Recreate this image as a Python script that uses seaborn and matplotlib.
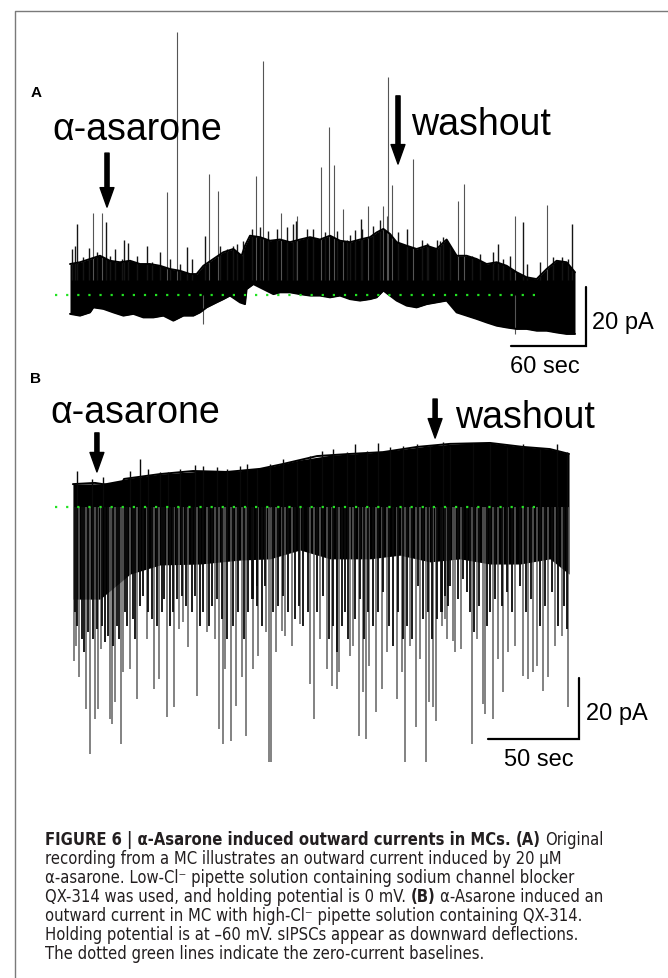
import numpy as np
import pandas as pd
import seaborn as sns
import matplotlib.pyplot as plt
from matplotlib.lines import Line2D

# ---- panel A : low-Cl- recording, outward current (time in s, current in pA re baseline)
a_top_t = [0, 8, 16, 24, 32, 40, 48, 56, 64, 72, 80, 88, 96, 101.3, 106.7, 114.7, 122.7,
           130.7, 137.3, 140, 144, 152, 160, 168, 176, 184, 192, 200, 208, 216, 224,
           232, 240, 245.3, 250.7, 256, 261.3, 269.3, 277.3, 285.3, 293.3, 301.3,
           309.3, 317.3, 325.3, 333.3, 341.3, 349.3, 357.3, 365.3, 373.3, 381.3,
           389.3, 397.3, 404]
a_top = [10.5, 11.1, 12.2, 13.3, 11.6, 11.1, 11.6, 10.5, 10.5, 9.9, 8.8, 8.2, 7.1, 7.1,
         9.9, 12.2, 14.5, 15.6, 13.3, 16.7, 20.1, 19.6, 18.4, 18.8, 17.9, 18.8, 19.6,
         18.8, 20.1, 18.4, 17.9, 18.8, 19.6, 21.2, 22.4, 20.7, 17.9, 16.7, 15.6, 16.7,
         15.6, 18.8, 13.3, 13.3, 12.2, 10.5, 11.1, 9.9, 7.7, 6.0, 5.4, 8.8, 11.6, 11.1,
         7.7]
a_bot_t = [0, 8, 16, 18.7, 26.7, 34.7, 42.7, 50.7, 58.7, 66.7, 74.7, 82.7, 90.7, 98.7,
           104, 109.3, 117.3, 122.7, 128, 136, 140, 141.3, 146.7, 154.7, 162.7, 168,
           176, 184, 192, 200, 208, 216, 224, 232, 240, 245.3, 250.7, 256, 261.3,
           269.3, 277.3, 285.3, 293.3, 301.3, 309.3, 317.3, 325.3, 333.3, 341.3,
           349.3, 357.3, 365.3, 373.3, 381.3, 389.3, 397.3, 404]
a_bot = [-6.4, -7.0, -5.9, -4.2, -4.7, -5.9, -7.0, -6.4, -7.6, -7.6, -7.0, -8.7, -7.0,
         -7.0, -5.9, -4.2, -2.5, -1.4, -0.2, -2.5, -3.1, 2.0, 3.7, 2.0, 0.3, 0.9, 0.9,
         0.3, -0.2, -0.2, -0.8, -0.2, -1.4, -1.9, -1.4, -0.8, 1.5, -0.2, -1.9, -3.6,
         -4.2, -3.1, -2.5, -1.9, -5.9, -7.0, -8.1, -9.3, -10.4, -11.0, -11.5, -11.5,
         -12.1, -12.1, -12.7, -13.2, -13.2]
a_up_t = [85.6, 154.4, 254.4, 207.2, 274.4, 200.8, 211.2, 148.8, 111.2, 118.4, 77.6,
          315.2, 310.4, 381.6, 356, 401.6, 18.4, 25.6, 5.6, 28.8, 257.6, 238.4, 362.4,
          342.4, 168.8, 181.6, 218.4, 108, 93.6, 43.2, 61.6, 46.4, 180.8, 224, 228,
          232.8, 250.4, 269.6, 285.6, 296,
          1.3, 4.0, 10.1, 15.5, 21.9, 32.0, 36.0, 41.3, 53.3, 65.3, 72.0, 80.0, 88.0,
          97.3, 120.0, 125.3, 130.7, 133.3, 138.7, 145.3, 152.0, 158.7, 165.3, 173.3,
          178.7, 189.3, 194.7, 204.0, 213.3, 221.3, 233.3, 242.7, 248, 253.3, 262.7,
          281.3, 286.7, 293.3, 298.7, 304, 321.3, 328, 338.7, 346.7, 352, 365.3, 376,
          386.7, 393.3, 398.7]
a_up_pa = [89.2, 79.3, 73.9, 56.9, 46.1, 43.4, 44.1, 40.3, 41.0, 35.3, 34.9,
           37.6, 31.9, 30.5, 26.8, 24.1, 27.8, 27.8, 24.1, 24.7, 37.3, 30.2, 24.7,
           17.3, 27.8, 26.8, 29.2, 20.0, 16.3, 18.6, 16.6, 17.6, 25.1, 20.3, 22.0,
           25.8, 30.2, 22.4, 17.6, 18.3,
           15.6, 16.7, 12.8, 16.1, 14.5, 13.3, 15.6, 12.2, 13.3, 11.1, 14.5, 12.2, 10.5,
           12.2, 16.7, 15.6, 16.7, 17.3, 18.4, 22.4, 22.9, 21.8, 22.4, 22.9,
           24.1, 22.4, 22.4, 21.2, 21.8, 18.8, 22.4, 23.5, 25.3, 26.9, 21.2,
           18.8, 17.3, 18.8, 19.6, 16.7, 13.3, 13.8, 14.5, 12.2, 13.3, 10.5, 11.1,
           12.8, 12.8, 12.2]
a_down_t = [106.4, 356]
a_down_pa = [-9.8, -13.2]
a_drug_t, a_wash_t = 29.6, 262.4

# ---- panel B : high-Cl- recording, sIPSCs as downward deflections
b_time = [0.5, 12.6, 26.4, 28.6, 48.4, 66.5, 85.2, 103.3, 115.9, 134.6, 152.7, 170.9,
          189.6, 207.7, 229.7, 247.8, 262.6, 273.1]
b_upper = [7.5, 7.9, 6.6, 9.2, 10.8, 11.8, 11.5, 12.5, 14.1, 16.7, 17.4, 18.0,
           19.7, 20.7, 21.0, 19.7, 19.0, 17.4]
b_dense_t = [0.5, 15.4, 31.9, 48.4, 70.3, 92.3, 108.8, 125.3, 141.8, 163.7, 180.2,
             196.7, 213.2, 229.7, 246.2, 262.6, 273.1]
b_dense = [-30.2, -30.2, -22.0, -19.0, -18.7, -17.4, -17.0, -14.1, -17.0, -17.0,
           -15.8, -18.0, -17.0, -18.7, -18.7, -17.0, -22.0]
# deepest sIPSCs
b_ipsc_t = [1.1, 2.2, 3.8, 7.7, 9.9, 12.6, 14.3, 15.9, 20.9, 22.0, 23.6, 26.9, 28.0,
            31.9, 35.7, 41.2, 45.1, 47.8, 52.2, 56.0, 58.8, 61.0, 63.7, 68.7, 74.2,
            78.6, 80.8, 83.0, 84.1, 87.4, 90.1, 93.4, 95.6, 99.5, 102.2, 106.6, 108.2,
            109.3, 112.1, 115.4, 117.0, 120.9, 125.3, 130.8, 133.0, 136.3, 140.1,
            142.9, 145.6, 146.7, 152.7, 154.4, 157.7, 159.9, 161.5, 163.2, 167.0,
            170.3, 173.1, 178.6, 181.3, 183.0, 185.7, 189.0, 191.2, 194.5, 196.2,
            198.4, 200.0, 203.3, 206.0, 204.9, 209.3, 210.4, 213.7, 219.8, 222.5,
            225.8, 226.9, 231.3, 234.1, 236.8, 239.6, 243.4, 247.8, 250.5, 253.3,
            255.5, 258.8, 261.5, 265.4, 269.2, 272.5]
b_ipsc_pa = [-50.5, -45.6, -55.7, -66.2, -81.0, -69.5, -66.2, -46.6, -69.5, -71.1,
             -63.9, -77.7, -54.1, -53.1, -63.0, -43.3, -59.7, -56.4, -68.9, -65.6,
             -40.0, -37.7, -45.9, -62.0, -41.0, -43.3, -72.8, -77.7, -53.1, -76.7,
             -65.2, -55.7, -75.1, -53.1, -48.9, -41.0, -83.6, -83.6, -47.5, -40.7,
             -42.3, -45.6, -38.4, -58.0, -69.5, -43.3, -53.1, -58.7, -59.7, -54.1,
             -48.9, -45.6, -75.1, -60.7, -76.1, -52.1, -67.2, -59.7, -47.5, -63.0,
             -54.1, -83.6, -45.6, -72.1, -49.8, -83.6, -63.9, -65.6, -70.2, -39.0,
             -43.3, -36.7, -43.9, -47.5, -46.6, -77.7, -43.3, -64.6, -67.9, -69.5,
             -49.8, -60.7, -47.5, -45.6, -55.4, -56.4, -54.1, -52.1, -60.3, -55.7,
             -45.6, -42.3, -65.6]
# the many smaller sIPSCs that make up the dark band below the baseline
b_small_t = [1.6, 2.9, 5.3, 6.6, 9.0, 11.7, 13.6, 16.3, 18.1, 20.0, 22.7, 24.5, 26.0,
             29.1, 30.0, 33.3, 34.6, 37.4, 39.2, 41.9, 43.8, 46.5, 49.3, 50.5, 53.8,
             55.3, 57.5, 60.3, 62.6, 65.8, 67.6, 70.3, 72.2, 75.4, 76.7, 79.5, 82.2,
             85.0, 88.6, 91.4, 94.5, 96.9, 98.7, 101.5,
             99.6, 101.5, 104.2, 106.0, 110.6, 113.4, 116.1, 118.9, 122.5, 124.9, 127.1,
             129.9, 134.4, 138.1, 141.4, 143.6, 145.8, 148.2, 150.0, 151.8, 155.5,
             158.2, 160.4, 162.8, 165.6, 168.3, 171.1, 174.4, 176.6, 179.3, 181.7,
             183.9, 186.6, 190.3, 193.0, 195.8, 197.6, 200.4, 202.6, 204.9, 206.8,
             203.1, 206.8, 207.7, 212.3, 215.0, 216.9, 218.7, 221.0, 223.8, 227.8,
             229.7, 232.4, 236.1, 238.8, 241.6, 246.2, 249.5, 252.0, 257.1, 259.9,
             263.6, 267.2, 270.3, 271.8]
b_small_pa = [-34.5, -38.9, -43.3, -47.6, -41.1, -43.3, -40.0, -38.9, -44.4, -42.2,
              -45.5, -38.9, -43.3, -34.5, -38.9, -36.7, -43.3, -32.3, -29.1, -34.5,
              -36.7, -38.9, -34.5, -30.2, -38.9, -34.5, -30.2, -29.1, -32.3, -34.5,
              -29.1, -38.9, -34.5, -38.9, -32.3, -30.2, -36.7, -43.3, -38.9, -34.5,
              -43.3, -34.5, -30.2, -25.8,
              -30.2, -32.3, -38.9, -25.8, -34.5, -32.3, -29.1, -34.5, -36.7, -32.3,
              -38.9, -34.5, -34.5, -29.1, -43.3, -38.9, -47.6, -38.9, -34.5, -43.3,
              -36.7, -30.2, -43.3, -34.5, -38.9, -34.5, -28.0, -38.9, -45.5, -34.5,
              -43.3, -38.9, -43.3, -25.8, -36.7, -34.5, -43.3, -36.7, -34.5, -29.1,
              -25.8,
              -34.5, -32.3, -25.8, -30.2, -23.6, -28.0, -34.5, -41.1, -32.3, -38.9,
              -34.5, -30.2, -32.3, -28.0, -34.5, -25.8, -34.5, -30.2, -38.9, -32.3,
              -28.0, -38.9, -32.3, -40.0]
b_up_t = [2.6, 10.8, 17.2, 31.9, 37.4, 41.9, 48.4, 52.9, 59.3, 67.6, 72.2, 79.5, 85.0,
          92.3, 96.0, 101.5, 108.8, 116.1, 123.4, 130.8, 137.2, 143.6, 150.9, 155.5,
          161.9, 168.3, 174.7, 182.1, 189.4, 196.7, 204.0, 207.7, 220.5, 229.7, 238.8,
          248.0, 257.1, 266.3, 271.8]
b_up_pa = [11.9, 9.2, 9.7, 11.9, 15.7, 12.5, 11.4, 11.4, 12.5, 13.8, 13.5, 13.0, 12.5,
           13.5, 14.1, 12.5, 14.1, 15.7, 14.7, 16.8, 18.5, 19.0, 17.9, 20.7, 18.5, 21.0,
           19.6, 20.1, 20.7, 20.1, 21.2, 20.1, 21.0, 21.0, 19.6, 20.7, 19.0, 20.7, 17.9]
b_drug_t, b_wash_t = 13.7, 199.5

caption = [
    [("FIGURE 6 | α-Asarone induced outward currents in MCs.", True), ("(A)", True), ("Original", False)],
    [("recording from a MC illustrates an outward current induced by 20 μM", False)],
    [("α-asarone. Low-Cl⁻ pipette solution containing sodium channel blocker", False)],
    [("QX-314 was used, and holding potential is 0 mV.", False), ("(B)", True), ("α-Asarone induced an", False)],
    [("outward current in MC with high-Cl⁻ pipette solution containing QX-314.", False)],
    [("Holding potential is at –60 mV. sIPSCs appear as downward deflections.", False)],
    [("The dotted green lines indicate the zero-current baselines.", False)],
]

sns.set_theme(style='white')
plt.rcParams['font.family'] = ['Liberation Sans', 'DejaVu Sans']
BLACK = '#000000'

W, H = 668, 979
fig = plt.figure(figsize=(W / 100, H / 100), dpi=100)
fig.patch.set_facecolor('white')


def ftext(x, y, s, **kw):
    return fig.text(x / W, 1 - y / H, s, **kw)


def panel_axes(x0, px_s, y0, px_pa):
    # full-figure axes, time zero at pixel x0 and zero current at pixel y0
    ax = fig.add_axes([0, 0, 1, 1])
    ax.set_xlim(-x0 / px_s, (W - x0) / px_s)
    ax.set_ylim((y0 - H) / px_pa, y0 / px_pa)
    ax.set_axis_off()
    ax.patch.set_alpha(0)
    return ax


green = '#22e322'
arrow = dict(width=3, headwidth=10, headlength=14, color=BLACK, shrink=0)

# frame
fig.add_artist(Line2D([15 / W, 15 / W, 1], [0, 1 - 12 / H, 1 - 12 / H],
                      transform=fig.transFigure, color='#7a7a7a', lw=1))

# ---------------- panel A
axA = panel_axes(70, 1.25, 296, 2.95)
t_a = np.union1d(a_top_t, a_bot_t)
hi_a = np.interp(t_a, a_top_t, a_top)
lo_a = np.interp(t_a, a_bot_t, a_bot)
up_t, up_pa = np.array(a_up_t), np.array(a_up_pa)
tall = up_pa > 26
axA.vlines(up_t[tall], 5, up_pa[tall], color='#555555', lw=0.8)
axA.vlines(up_t[~tall], 5, up_pa[~tall], color='#151515', lw=1.0)
axA.vlines(a_down_t, 0, a_down_pa, color='#555555', lw=0.8)
axA.fill_between(t_a, lo_a, hi_a, color=BLACK, lw=0)
sns.lineplot(x=a_top_t, y=a_top, ax=axA, color=BLACK, lw=1.4)
sns.lineplot(x=a_bot_t, y=a_bot, ax=axA, color=BLACK, lw=1.4)
axA.hlines(0, -12, 376.8, color=green, lw=1.6, linestyles=(0, (1, 4)), zorder=5)
axA.annotate('', xy=(a_drug_t, 29.8), xytext=(a_drug_t, 48.1), arrowprops=arrow)
axA.annotate('', xy=(a_wash_t, 44.4), xytext=(a_wash_t, 67.5), arrowprops=arrow)
axA.plot([352.8, 412.8, 412.8], [-17.3, -17.3, 2.7], color=BLACK, lw=1.6,
         solid_joinstyle='miter')

# ---------------- panel B
axB = panel_axes(72, 1.82, 508, 3.05)
axB.vlines(b_ipsc_t, 0, b_ipsc_pa, color='#606060', lw=1.1)
axB.vlines(b_small_t, 0, b_small_pa, color='#0a0a0a', lw=1.3)
axB.fill_between(b_dense_t, b_dense, np.interp(b_dense_t, b_time, b_upper),
                 color=BLACK, lw=0)
sns.lineplot(x=b_time, y=b_upper, ax=axB, color=BLACK, lw=1.4)
axB.vlines(b_up_t, 0, b_up_pa, color='#0a0a0a', lw=1.0)
axB.hlines(0, -9.3, 257.7, color=green, lw=1.6, linestyles=(0, (1, 4)), zorder=5)
axB.annotate('', xy=(b_drug_t, 11.5), xytext=(b_drug_t, 24.3), arrowprops=arrow)
axB.annotate('', xy=(b_wash_t, 22.6), xytext=(b_wash_t, 35.4), arrowprops=arrow)
axB.plot([228.6, 278.6, 278.6], [-76.1, -76.1, -56.1], color=BLACK, lw=1.6,
         solid_joinstyle='miter')

# ---------------- labels
big = dict(fontsize=27, va='baseline', ha='left', color=BLACK)
ftext(31, 97, 'A', fontsize=11, fontweight='bold', va='baseline', color=BLACK)
ftext(52, 140, 'α-asarone', **big)
ftext(411, 135, 'washout', **big)
ftext(592, 323, '20 pA', fontsize=17, va='center', color=BLACK)
ftext(545, 367, '60 sec', fontsize=17, va='center', ha='center', color=BLACK)

ftext(30, 383, 'B', fontsize=11, fontweight='bold', va='baseline', color=BLACK)
ftext(50, 423, 'α-asarone', **big)
ftext(455, 428, 'washout', **big)
ftext(586, 714, '20 pA', fontsize=17, va='center', color=BLACK)
ftext(539, 760, '50 sec', fontsize=17, va='center', ha='center', color=BLACK)

# ---------------- caption (runs of bold / regular text, one common size)
cap = dict(family=['DejaVu Sans'], fontstretch='condensed', color='#231f20', va='center')
fig.canvas.draw()
r = fig.canvas.get_renderer()
probe = ftext(0, 0, caption[4][0][0], fontsize=10, **cap)
size = 10 * 536 / probe.get_window_extent(r).width
probe.remove()
sp1 = ftext(0, 0, 'x x', fontsize=size, **cap)
sp2 = ftext(0, 0, 'xx', fontsize=size, **cap)
space = sp1.get_window_extent(r).width - sp2.get_window_extent(r).width
sp1.remove()
sp2.remove()

for i, runs in enumerate(caption):
    x = 45
    for s, bold in runs:
        t = ftext(x, 840 + 19 * i, s, fontsize=size,
                  fontweight='bold' if bold else 'normal', **cap)
        x += t.get_window_extent(r).width + space

fig.savefig('out.png', dpi=100)
